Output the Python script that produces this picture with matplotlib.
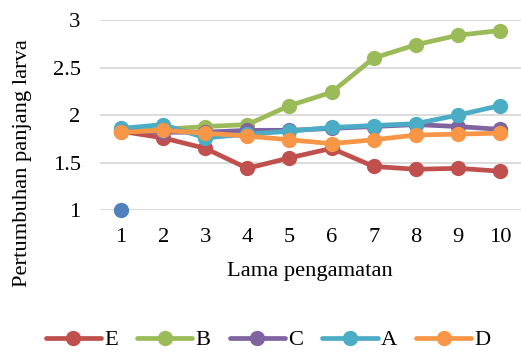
import numpy as np
import matplotlib.pyplot as plt

plt.rcParams['font.family'] = ['Liberation Serif', 'DejaVu Serif']

# data
hari = [1, 2, 3, 4, 5, 6, 7, 8, 9, 10]
E = [1.83, 1.76, 1.65, 1.44, 1.55, 1.65, 1.46, 1.43, 1.44, 1.41]
B = [1.82, 1.85, 1.88, 1.90, 2.10, 2.24, 2.60, 2.74, 2.84, 2.89]
C = [1.84, 1.82, 1.82, 1.84, 1.84, 1.86, 1.88, 1.90, 1.88, 1.85]
A = [1.86, 1.90, 1.76, 1.80, 1.83, 1.87, 1.89, 1.91, 2.00, 2.10]
D = [1.82, 1.84, 1.81, 1.78, 1.74, 1.70, 1.74, 1.79, 1.80, 1.81]
extra_x = [1]
extra_y = [1.0]

series = [('E', E, '#C0504D'), ('B', B, '#9BBB59'), ('C', C, '#8064A2'),
          ('A', A, '#4BACC6'), ('D', D, '#F79646')]

fs = 16.2

fig = plt.figure(figsize=(5.21, 3.52), dpi=100)
ax = fig.add_axes([0.192, 0.403, 0.808, 0.540])

ax.plot(extra_x, extra_y, 'o', color='#4F81BD', markersize=10, label='_nolegend_')
for name, vals, col in series:
    ax.plot(hari, vals, '-o', color=col, lw=3.4, markersize=10, label=name,
            solid_capstyle='round')

ax.set_xlim(0.5, 10.5)
ax.set_ylim(1, 3)
ax.set_xticks(hari)
ax.set_yticks([1, 1.5, 2, 2.5, 3])
ax.set_yticklabels(['1', '1.5', '2', '2.5', '3'])
ax.tick_params(length=0, labelsize=fs)
ax.tick_params(axis='x', pad=13)
ax.tick_params(axis='y', pad=14)
ax.grid(axis='y', color='#D9D9D9', lw=1.3)
ax.set_axisbelow(True)
for s in ax.spines.values():
    s.set_visible(False)
for ln in ax.lines:
    ln.set_clip_on(False)

ax.set_xlabel('Lama pengamatan', fontsize=fs)
ax.xaxis.set_label_coords(0.499, -0.275)
ax.set_ylabel('Pertumbuhan panjang larva', fontsize=fs)
ax.yaxis.set_label_coords(-0.161, 0.25)

fig.legend(loc='center', bbox_to_anchor=(0.515, 1 - 340 / 352), ncol=5, frameon=False,
           fontsize=fs, handlelength=2.45, handletextpad=0.15, columnspacing=0.85)

fig.savefig('out.png', dpi=100)
